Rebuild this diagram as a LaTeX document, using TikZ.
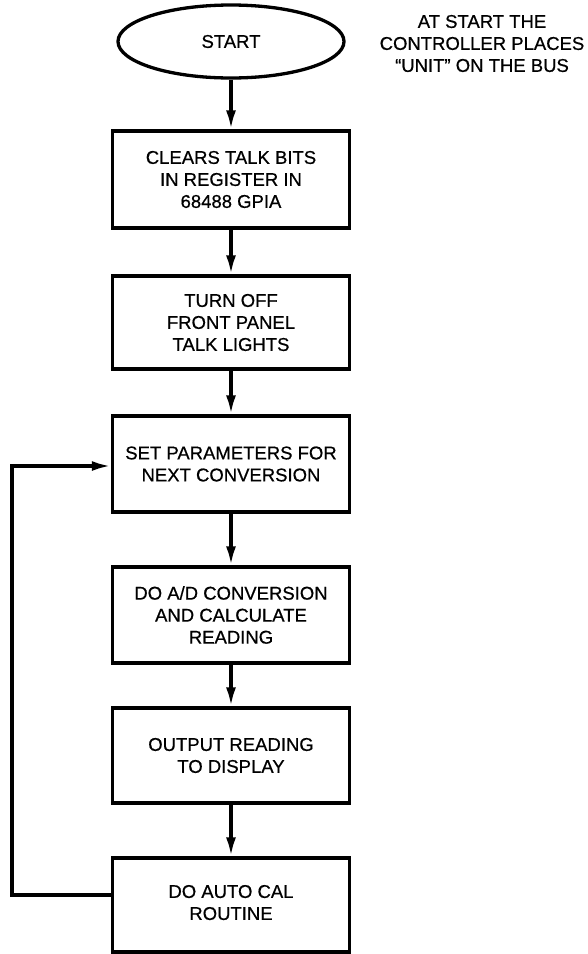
\documentclass[tikz,border=0pt]{standalone}
\usepackage{fontspec}
\setmainfont{Liberation Sans}[FakeBold=0.6]
\usetikzlibrary{shapes.geometric,arrows.meta}
\begin{document}
\begin{tikzpicture}[x=1pt,y=-1pt,
  txt/.style={font=\fontsize{18.5}{22}\selectfont, align=center},
  box/.style={txt, draw, line width=3.3pt, rectangle, minimum width=237pt, inner sep=0pt},
  flow/.style={line width=3.3pt, -{Latex[length=19pt,width=10pt]}}]
\useasboundingbox (0,0) rectangle (587,954);
\node[txt, draw, ellipse, line width=3.3pt, minimum width=226pt, minimum height=73pt, inner sep=0pt] (start) at (231,41.5) {START};
\node[txt] (note) at (482,43.5) {AT START THE\\CONTROLLER PLACES\\``UNIT'' ON THE BUS};
\node[box, minimum height=97pt] (clr) at (231,179.5) {CLEARS TALK BITS\\IN REGISTER IN\\68488 GPIA};
\node[box, minimum height=93pt] (off) at (231,322.5) {TURN OFF\\FRONT PANEL\\TALK LIGHTS};
\node[box, minimum height=96pt] (setp) at (231,464) {SET PARAMETERS FOR\\NEXT CONVERSION};
\node[box, minimum height=96pt] (ad) at (231,615) {DO A/D CONVERSION\\AND CALCULATE\\READING};
\node[box, minimum height=95pt] (out) at (231,755.5) {OUTPUT READING\\TO DISPLAY};
\node[box, minimum height=94pt, text height=30pt] (cal) at (231,905) {DO AUTO CAL\\ROUTINE};
\coordinate (lb) at (12,895);
\coordinate (lt) at (12,466);
\draw[flow] (start) -- (clr);
\draw[flow] (clr) -- (off);
\draw[flow] (off) -- (setp);
\draw[flow] (setp) -- (ad);
\draw[flow] (ad) -- (out);
\draw[flow] (out) -- (cal);
\draw[flow] (cal.west |- lb) -- (lb) -- (lt) -- (lt -| setp.west);
\end{tikzpicture}
\end{document}
